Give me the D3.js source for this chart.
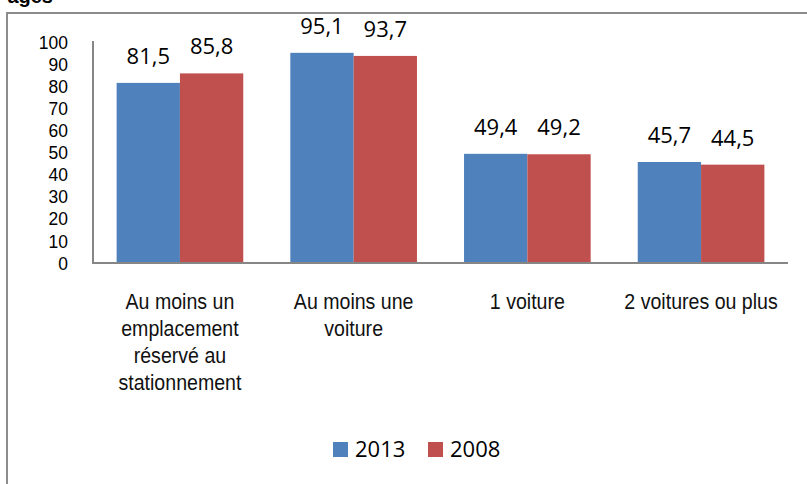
<!DOCTYPE html>
<html>
<head>
<meta charset="utf-8">
<script src="https://cdn.jsdelivr.net/npm/d3@7"></script>
<style>
  body { margin: 0; background: #fff; }
  svg { display: block; }
</style>
</head>
<body>
<svg id="chart" width="807" height="484"></svg>
<script>
// data
const categories = [
  ["Au moins un", "emplacement", "réservé au", "stationnement"],
  ["Au moins une", "voiture"],
  ["1 voiture"],
  ["2 voitures ou plus"]
]
const series = ["2013", "2008"]
const values2013 = [81.5, 95.1, 49.4, 45.7]
const values2008 = [85.8, 93.7, 49.2, 44.5]
const yTicks = [0, 10, 20, 30, 40, 50, 60, 70, 80, 90, 100]

const colors = { "2013": "#4F81BD", "2008": "#C0504D" }
const arial = 'Liberation Sans, Arial, sans-serif'

const svg = d3.select('#chart')

const plotLeft = 93, plotRight = 788, plotTop = 42, plotBottom = 263

// outer frame (only left & top edges visible in the crop)
svg.append('rect')
    .attr('x', 7).attr('y', 13)
    .attr('width', 830).attr('height', 520)
    .attr('fill', 'none')
    .attr('stroke', '#8c8c8c')
    .attr('stroke-width', 2)

// cut-off title
svg.append('text')
    .attr('x', 53).attr('y', 3)
    .attr('text-anchor', 'end')
    .attr('font-family', arial)
    .attr('font-weight', 'bold')
    .attr('font-size', 20)
    .text('ages')

const keys = categories.map((c, i) => i)

const xScale = d3.scaleBand()
    .domain(keys)
    .range([plotLeft, plotRight])
    .paddingInner(0.271)
    .paddingOuter(0.136)

const xSub = d3.scaleBand()
    .domain(series)
    .range([0, xScale.bandwidth()])

const yScale = d3.scaleLinear()
    .domain([0, 100])
    .range([plotBottom, plotTop])

// y tick labels (slightly condensed like the original)
svg.append('g')
    .selectAll('text')
    .data(yTicks)
    .enter()
    .append('text')
    .attr('transform', d => `translate(68, ${yScale(d)}) scale(0.92, 1)`)
    .attr('dy', '0.35em')
    .attr('text-anchor', 'end')
    .attr('font-family', arial)
    .attr('font-size', 19)
    .text(d => d)

const rows = []
keys.forEach(i => {
    rows.push({ cat: i, s: "2013", v: values2013[i] })
    rows.push({ cat: i, s: "2008", v: values2008[i] })
})

const bars = svg.append('g')
    .selectAll('g')
    .data(rows)
    .enter()
    .append('g')

bars.append('rect')
    .attr('x', d => xScale(d.cat) + xSub(d.s))
    .attr('y', d => yScale(d.v))
    .attr('width', xSub.bandwidth())
    .attr('height', d => plotBottom - yScale(d.v))
    .attr('fill', d => colors[d.s])

bars.append('text')
    .attr('x', d => xScale(d.cat) + xSub(d.s) + xSub.bandwidth() / 2)
    .attr('y', d => yScale(d.v) - 19)
    .attr('text-anchor', 'middle')
    .attr('font-family', 'Open Sans, sans-serif')
    .attr('font-size', 22)
    .text(d => String(d.v).replace('.', ','))

// axis lines
svg.append('line')
    .attr('x1', plotLeft).attr('x2', plotLeft)
    .attr('y1', plotTop - 1).attr('y2', plotBottom)
    .attr('stroke', '#868686').attr('stroke-width', 2)
svg.append('line')
    .attr('x1', plotLeft - 1).attr('x2', plotRight)
    .attr('y1', plotBottom).attr('y2', plotBottom)
    .attr('stroke', '#868686').attr('stroke-width', 2)

// category labels
const catLabels = svg.append('g')
    .selectAll('text')
    .data(keys)
    .enter()
    .append('text')
    .attr('transform', d => `translate(${xScale(d) + xScale.bandwidth() / 2}, 309) scale(0.89, 1)`)
    .attr('text-anchor', 'middle')
    .attr('font-family', arial)
    .attr('font-size', 22)
    .attr('fill', '#111')

catLabels.selectAll('tspan')
    .data(d => categories[d])
    .enter()
    .append('tspan')
    .attr('x', 0)
    .attr('dy', (d, i) => i === 0 ? 0 : 27)
    .text(d => d)

// legend
const legend = svg.append('g')
    .selectAll('g')
    .data(series)
    .enter()
    .append('g')
    .attr('transform', (d, i) => `translate(${333 + i * 95}, 442)`)

legend.append('rect')
    .attr('width', 15).attr('height', 15)
    .attr('fill', d => colors[d])

legend.append('text')
    .attr('x', 22).attr('y', 15)
    .attr('font-family', 'Open Sans, sans-serif')
    .attr('font-size', 22)
    .text(d => d)
</script>
</body>
</html>
